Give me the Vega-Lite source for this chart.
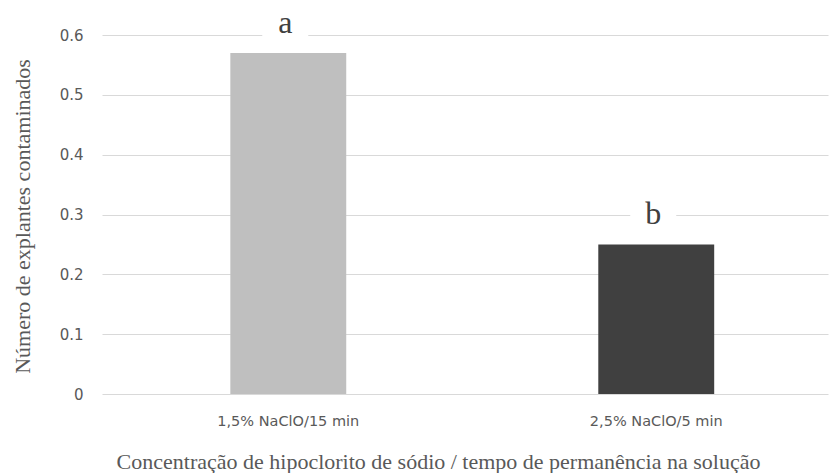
{
  "$schema": "https://vega.github.io/schema/vega-lite/v6.json",
  "width": 726,
  "height": 359,
  "autosize": {"type": "none"},
  "padding": {"left": 102, "top": 35, "right": 1, "bottom": 79},
  "background": "white",
  "config": {"view": {"stroke": null}},
  "data": {
    "values": [
      {"trat": "1,5% NaClO/15 min", "valor": 0.57, "letra": "a"},
      {"trat": "2,5% NaClO/5 min", "valor": 0.25, "letra": "b"}
    ]
  },
  "encoding": {
    "x": {
      "field": "trat",
      "type": "nominal",
      "sort": null,
      "scale": {"paddingInner": 0.685, "paddingOuter": 0.329, "align": 0.53},
      "axis": {
        "title": "Concentração de hipoclorito de sódio / tempo de permanência na solução",
        "labelAngle": 0,
        "domain": false,
        "ticks": false,
        "labelFont": "DejaVu Sans",
        "labelFontSize": 14.5,
        "labelColor": "#595959",
        "labelPadding": 20,
        "titleFont": "Liberation Serif",
        "titleFontSize": 22,
        "titleFontWeight": "normal",
        "titleColor": "#595959",
        "titleX": 336,
        "titleY": 67,
        "titleBaseline": "middle",
        "titleAlign": "center",
        "titleAnchor": null
      }
    },
    "y": {
      "field": "valor",
      "type": "quantitative",
      "scale": {"domain": [0, 0.6]},
      "axis": {
        "title": "Número de explantes contaminados",
        "values": [0, 0.1, 0.2, 0.3, 0.4, 0.5, 0.6],
        "format": "~g",
        "domain": false,
        "ticks": false,
        "grid": true,
        "gridColor": "#D9D9D9",
        "labelFont": "DejaVu Sans",
        "labelFontSize": 15,
        "labelColor": "#595959",
        "labelPadding": 19,
        "titleFont": "Liberation Serif",
        "titleFontSize": 22,
        "titleFontWeight": "normal",
        "titleColor": "#595959",
        "titleX": -80,
        "titleY": 181,
        "titleBaseline": "middle",
        "titleAlign": "center"
      }
    }
  },
  "layer": [
    {
      "mark": {"type": "bar"},
      "encoding": {
        "color": {
          "field": "trat",
          "type": "nominal",
          "sort": null,
          "scale": {"range": ["#BFBFBF", "#404040"]},
          "legend": null
        }
      }
    },
    {
      "mark": {"type": "tick", "color": "white", "opacity": 1, "size": 46, "thickness": 26, "yOffset": -30, "xOffset": -3, "orient": "horizontal"},
      "encoding": {}
    },
    {
      "mark": {"type": "text", "yOffset": -30, "xOffset": -3, "baseline": "middle", "font": "Liberation Serif", "fontSize": 32, "color": "#404040"},
      "encoding": {"text": {"field": "letra"}}
    }
  ]
}
